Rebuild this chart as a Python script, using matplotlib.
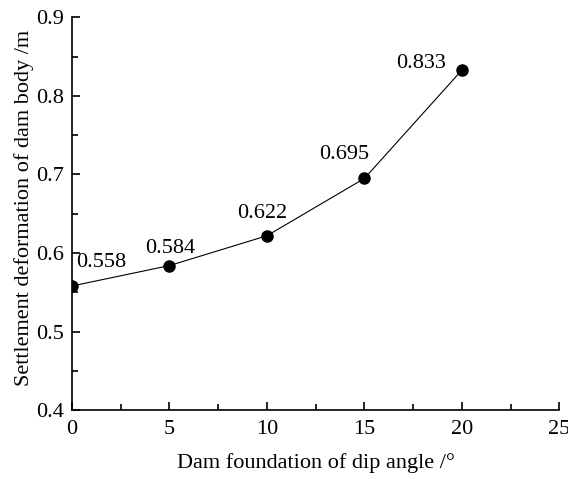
import matplotlib
matplotlib.use("Agg")
import matplotlib.pyplot as plt
from matplotlib.ticker import MultipleLocator, FormatStrFormatter

# Settlement of dam body versus dip angle of the dam foundation
dip_angle = [0, 5, 10, 15, 20]
settlement = [0.558, 0.584, 0.622, 0.695, 0.833]
value_labels = ["0.558", "0.584", "0.622", "0.695", "0.833"]

plt.rcParams["font.family"] = ["Liberation Serif", "DejaVu Serif"]

fig = plt.figure(figsize=(5.68, 4.79), dpi=100)
ax = fig.add_axes([0.1268, 0.144, 0.858, 0.8195])

ax.plot(dip_angle, settlement, color="black", linewidth=0.8,
        marker="o", markersize=8, zorder=3)

# label offsets (pixels) from each point to the label's centre/baseline
offsets = [(29, 19), (1, 13), (-4.5, 18), (-20.5, 19), (-40.5, 2)]
for x, y, txt, off in zip(dip_angle, settlement, value_labels, offsets):
    ax.annotate(txt, (x, y), xytext=off, textcoords="offset pixels",
                ha="center", va="baseline", fontsize=16)

ax.set_xlim(0, 25)
ax.set_ylim(0.4, 0.9)
ax.xaxis.set_major_locator(MultipleLocator(5))
ax.xaxis.set_minor_locator(MultipleLocator(2.5))
ax.yaxis.set_major_locator(MultipleLocator(0.1))
ax.yaxis.set_minor_locator(MultipleLocator(0.05))
ax.yaxis.set_major_formatter(FormatStrFormatter("%.1f"))

for s in ("top", "right"):
    ax.spines[s].set_visible(False)
for s in ("left", "bottom"):
    ax.spines[s].set_linewidth(1.2)

ax.tick_params(which="both", direction="in", width=1.2, labelsize=16)
ax.tick_params(which="major", length=6)
ax.tick_params(which="minor", length=4)
ax.tick_params(axis="x", pad=7)
ax.tick_params(axis="y", pad=6)

ax.set_xlabel("Dam foundation of dip angle /°", fontsize=16, labelpad=10)
ax.set_ylabel("Settlement deformation of dam body /m", fontsize=16)
ax.yaxis.set_label_coords(-0.078, 0.515)

fig.savefig("out.png", dpi=100)
